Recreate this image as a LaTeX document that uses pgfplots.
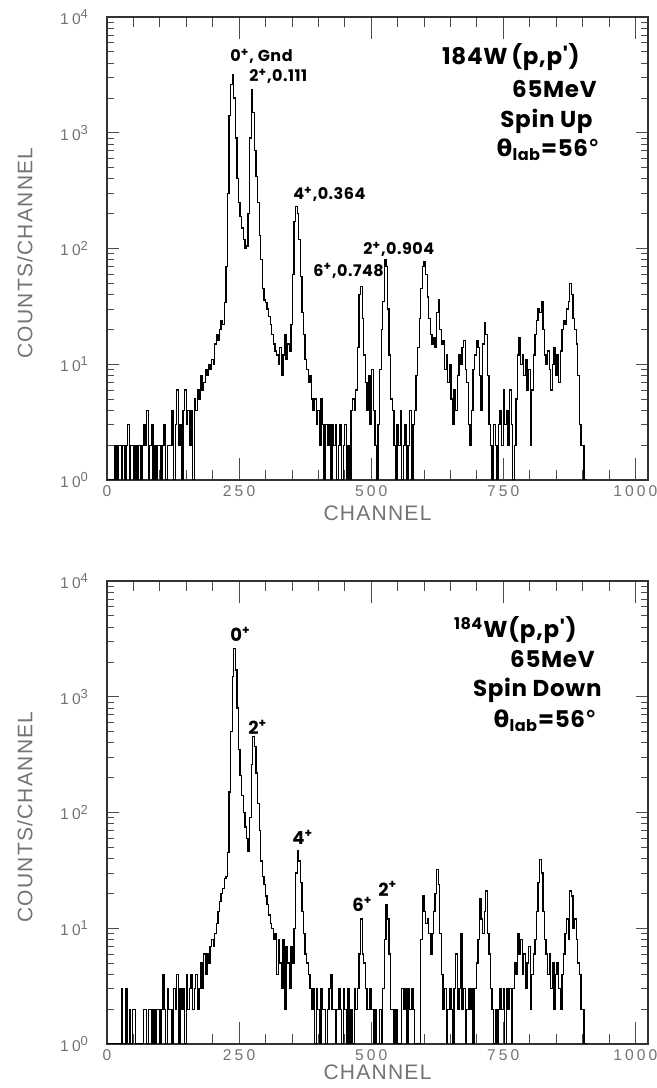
\documentclass[border=0pt]{standalone}
\usepackage{fontspec}
\usepackage{pgfplots}
\pgfplotsset{compat=1.18}
\setmainfont{Liberation Sans}
\newfontfamily\axfont[LetterSpace=6]{Liberation Sans}
\newfontfamily\tkfont[LetterSpace=20]{Liberation Sans}
\newfontfamily\anfont[LetterSpace=3]{Poppins}
\newfontfamily\grfont{DejaVu Sans}
\definecolor{labgray}{gray}{0.45}
\newcommand{\ex}[1]{10\raisebox{0.7ex}{\fontsize{6.5}{6.5}\selectfont #1}}

\begin{document}
\begin{tikzpicture}
\path[use as bounding box] (0,0) rectangle (328.5pt,544pt);

% spin up
\begin{axis}[at={(53.5pt,304pt)}, anchor=south west,
    scale only axis, width=270.5pt, height=231.5pt,
    ymode=log, xmin=0, xmax=1024, ymin=1, ymax=10000,
    xtick={0,250,500,750,1000}, xticklabels={0,250,500,750,1000},
    minor xtick={50,100,150,200,300,350,400,450,550,600,650,700,800,850,900,950},
    ytick={1,10,100,1000,10000}, yticklabels={\ex{0},\ex{1},\ex{2},\ex{3},\ex{4}},
    minor ytick={2,3,4,5,6,7,8,9,20,30,40,50,60,70,80,90,200,300,400,500,600,700,800,900,2000,3000,4000,5000,6000,7000,8000,9000},
    xtick pos=both, ytick pos=both,
    tick align=inside, major tick length=6pt, minor tick length=3.5pt,
    xtick style={/pgfplots/major tick length=11pt, /pgfplots/minor tick length=5pt},
    tick style={black!70, line width=0.4pt},
    axis line style={black!80, line width=0.6pt},
    ticklabel style={font=\tkfont\fontsize{7.8}{9}\selectfont, text=labgray},
    yticklabel style={xshift=-6pt},
    xticklabel style={inner sep=1pt, yshift=-1.5pt},
    xlabel={CHANNEL}, ylabel={COUNTS/CHANNEL},
    xlabel style={font=\axfont\fontsize{10.5}{12}\selectfont, text=labgray, inner sep=0pt,
      at={(axis description cs:0.5,0)}, anchor=center, yshift=-16.75pt},
    ylabel style={font=\axfont\fontsize{10.5}{12}\selectfont, text=labgray,
      at={(axis description cs:-0.1516,0.49)}, anchor=center}]
\addplot[const plot, black, line width=0.65pt, mark=none] coordinates {
(0,1)(3,1)(6,1)(9,1)(12,1)(15,2)(18,1)(21,2)(24,2)(27,1)
(30,2)(33,1)(36,2)(39,3)(42,1)(45,2)(48,2)(51,1)(54,2)(57,1)
(60,2)(63,1)(66,2)(69,3)(72,2)(75,4)(78,1)(81,2)(84,3)(87,1)
(90,2)(93,1)(96,2)(99,2)(102,1)(105,2)(108,3)(111,1)(114,2)(117,2)
(120,2)(123,4)(126,1)(129,3)(132,6)(135,2)(138,3)(141,1)(144,4)(147,6)
(150,3)(153,4)(156,2)(159,4)(162,1)(165,5)(168,4)(171,6)(174,5)(177,8)
(180,6)(183,7)(186,9)(189,8)(192,10)(195,9)(198,11)(201,10)(204,15)(207,18)
(210,16)(213,20)(216,24)(219,22)(222,34)(225,70)(228,300)(231,1400)(234,2600)(237,3160)
(240,2000)(243,900)(246,400)(249,250)(252,190)(255,150)(258,120)(261,100)(264,105)(267,200)
(270,900)(273,2340)(276,1500)(279,700)(282,420)(285,250)(288,130)(291,80)(294,45)(297,36)
(300,34)(303,30)(306,26)(309,22)(312,18)(315,15)(318,13)(321,12)(324,10)(327,14)
(330,8)(333,12)(336,18)(339,11)(342,15)(345,13)(348,22)(351,60)(354,170)(357,230)
(360,200)(363,120)(366,57)(369,28)(372,18)(375,11)(378,9)(381,7)(384,8)(387,5)
(390,4)(393,5)(396,3)(399,4)(402,2)(405,5)(408,3)(411,1)(414,3)(417,2)
(420,3)(423,1)(426,3)(429,2)(432,3)(435,1)(438,2)(441,3)(444,1)(447,2)
(450,3)(453,1)(456,2)(459,1)(462,4)(465,5)(468,4)(471,6)(474,14)(477,40)
(480,47)(483,25)(486,12)(489,7)(492,4)(495,8)(498,3)(501,9)(504,4)(507,2)
(510,1)(513,3)(516,9)(519,20)(522,35)(525,80)(528,70)(531,30)(534,12)(537,5)
(540,4)(543,2)(546,1)(549,3)(552,2)(555,4)(558,1)(561,2)(564,3)(567,1)
(570,2)(573,4)(576,1)(579,3)(582,4)(585,8)(588,14)(591,25)(594,45)(597,70)
(600,77)(603,60)(606,38)(609,25)(612,18)(615,15)(618,17)(621,14)(624,28)(627,36)
(630,20)(633,15)(636,16)(639,9)(642,12)(645,7)(648,10)(651,5)(654,3)(657,6)
(660,4)(663,8)(666,12)(669,10)(672,14)(675,16)(678,9)(681,7)(684,3)(687,2)
(690,4)(693,9)(696,12)(699,16)(702,14)(705,8)(708,4)(711,15)(714,23)(717,18)
(720,8)(723,3)(726,2)(729,1)(732,3)(735,2)(738,1)(741,3)(744,4)(747,2)
(750,6)(753,3)(756,4)(759,2)(762,6)(765,3)(768,1)(771,2)(774,5)(777,12)
(780,17)(783,10)(786,12)(789,8)(792,11)(795,6)(798,9)(801,2)(804,6)(807,12)
(810,18)(813,24)(816,30)(819,28)(822,35)(825,20)(828,12)(831,10)(834,13)(837,9)
(840,6)(843,10)(846,14)(849,8)(852,12)(855,7)(858,13)(861,20)(864,24)(867,22)
(870,30)(873,35)(876,50)(879,40)(882,25)(885,20)(888,15)(891,8)(894,3)(897,2)
(900,2)(903,1)(906,1)(909,1)
};
\end{axis}

% spin down
\begin{axis}[at={(53.5pt,22pt)}, anchor=south west,
    scale only axis, width=270.5pt, height=231.5pt,
    ymode=log, xmin=0, xmax=1024, ymin=1, ymax=10000,
    xtick={0,250,500,750,1000}, xticklabels={0,250,500,750,1000},
    minor xtick={50,100,150,200,300,350,400,450,550,600,650,700,800,850,900,950},
    ytick={1,10,100,1000,10000}, yticklabels={\ex{0},\ex{1},\ex{2},\ex{3},\ex{4}},
    minor ytick={2,3,4,5,6,7,8,9,20,30,40,50,60,70,80,90,200,300,400,500,600,700,800,900,2000,3000,4000,5000,6000,7000,8000,9000},
    xtick pos=both, ytick pos=both,
    tick align=inside, major tick length=6pt, minor tick length=3.5pt,
    xtick style={/pgfplots/major tick length=11pt, /pgfplots/minor tick length=5pt},
    tick style={black!70, line width=0.4pt},
    axis line style={black!80, line width=0.6pt},
    ticklabel style={font=\tkfont\fontsize{7.8}{9}\selectfont, text=labgray},
    yticklabel style={xshift=-6pt},
    xticklabel style={inner sep=1pt, yshift=-1.5pt},
    xlabel={CHANNEL}, ylabel={COUNTS/CHANNEL},
    xlabel style={font=\axfont\fontsize{10.5}{12}\selectfont, text=labgray, inner sep=0pt,
      at={(axis description cs:0.5,0)}, anchor=center, yshift=-14pt},
    ylabel style={font=\axfont\fontsize{10.5}{12}\selectfont, text=labgray,
      at={(axis description cs:-0.1516,0.49)}, anchor=center}]
\addplot[const plot, black, line width=0.65pt, mark=none] coordinates {
(0,1)(3,1)(6,1)(9,1)(12,1)(15,1)(18,1)(21,1)(24,1)(27,3)
(30,1)(33,1)(36,3)(39,1)(42,2)(45,1)(48,2)(51,2)(54,1)(57,1)
(60,1)(63,1)(66,1)(69,2)(72,2)(75,1)(78,2)(81,2)(84,1)(87,2)
(90,1)(93,2)(96,2)(99,1)(102,2)(105,4)(108,2)(111,1)(114,3)(117,2)
(120,2)(123,1)(126,3)(129,2)(132,4)(135,1)(138,3)(141,2)(144,3)(147,1)
(150,4)(153,2)(156,3)(159,4)(162,2)(165,3)(168,4)(171,2)(174,3)(177,5)
(180,3)(183,6)(186,4)(189,6)(192,5)(195,7)(198,8)(201,7)(204,9)(207,11)
(210,14)(213,17)(216,20)(219,22)(222,27)(225,28)(228,45)(231,150)(234,500)(237,1500)
(240,2630)(243,1700)(246,800)(249,350)(252,210)(255,140)(258,100)(261,75)(264,60)(267,46)
(270,90)(273,260)(276,452)(279,370)(282,220)(285,120)(288,70)(291,38)(294,28)(297,24)
(300,19)(303,16)(306,13)(309,11)(312,10)(315,8)(318,9)(321,4)(324,8)(327,5)
(330,3)(333,8)(336,2)(339,7)(342,5)(345,3)(348,7)(351,5)(354,10)(357,30)
(360,47)(363,38)(366,25)(369,14)(372,9)(375,6)(378,5)(381,4)(384,3)(387,2)
(390,3)(393,1)(396,3)(399,2)(402,1)(405,3)(408,2)(411,2)(414,1)(417,2)
(420,3)(423,4)(426,2)(429,2)(432,1)(435,2)(438,3)(441,2)(444,1)(447,3)
(450,2)(453,1)(456,3)(459,1)(462,2)(465,1)(468,3)(471,2)(474,3)(477,6)
(480,12)(483,6)(486,5)(489,3)(492,2)(495,2)(498,3)(501,2)(504,1)(507,2)
(510,1)(513,1)(516,2)(519,1)(522,3)(525,8)(528,16)(531,12)(534,6)(537,2)
(540,2)(543,1)(546,2)(549,1)(552,1)(555,1)(558,3)(561,2)(564,3)(567,1)
(570,3)(573,2)(576,3)(579,2)(582,1)(585,1)(588,1)(591,1)(594,8)(597,19)
(600,14)(603,11)(606,12)(609,9)(612,6)(615,9)(618,14)(621,20)(624,32)(627,24)
(630,9)(633,4)(636,2)(639,3)(642,1)(645,2)(648,3)(651,2)(654,1)(657,3)
(660,6)(663,2)(666,3)(669,9)(672,2)(675,3)(678,1)(681,2)(684,3)(687,2)
(690,3)(693,1)(696,3)(699,5)(702,8)(705,18)(708,12)(711,9)(714,14)(717,21)
(720,9)(723,6)(726,3)(729,2)(732,1)(735,2)(738,1)(741,2)(744,3)(747,2)
(750,3)(753,1)(756,3)(759,2)(762,3)(765,1)(768,3)(771,5)(774,4)(777,9)
(780,6)(783,8)(786,4)(789,6)(792,3)(795,5)(798,7)(801,2)(804,4)(807,6)
(810,8)(813,14)(816,25)(819,39)(822,30)(825,14)(828,8)(831,6)(834,4)(837,6)
(840,3)(843,5)(846,2)(849,4)(852,5)(855,3)(858,2)(861,4)(864,6)(867,9)
(870,12)(873,8)(876,21)(879,19)(882,10)(885,12)(888,8)(891,5)(894,4)(897,2)
(900,2)(903,1)(906,1)(909,1)
};
\end{axis}

% reaction labels
\begin{scope}[every node/.style={inner sep=0pt, anchor=base east,
    font=\anfont\bfseries\fontsize{11.5}{13}\selectfont}]
\node at (290pt,511.5pt) {184W\,(p,p')};
\node at (298.5pt,495pt) {65MeV};
\node at (296.5pt,480pt) {Spin Up};
\node at (300pt,465.5pt) {{\grfont θ}\textsubscript{lab}=56{\grfont °}};
\node at (288.5pt,225pt) {\textsuperscript{184}W(p,p')};
\node at (297.5pt,210pt) {65MeV};
\node at (301pt,195.5pt) {Spin Down};
\node at (298.5pt,180pt) {{\grfont θ}\textsubscript{lab}=56{\grfont °}};
\end{scope}

% peak labels
\begin{scope}[every node/.style={inner sep=0pt, anchor=base west,
    font=\anfont\bfseries\fontsize{8}{9.6}\selectfont}]
\node at (115pt,513pt) {0\textsuperscript{+}, Gnd};
\node at (124.5pt,503pt) {2\textsuperscript{+},0.111};
\node at (146.5pt,444pt) {4\textsuperscript{+},0.364};
\node at (156.5pt,405.7pt) {6\textsuperscript{+},0.748};
\node at (181.5pt,416.5pt) {2\textsuperscript{+},0.904};
\end{scope}
\begin{scope}[every node/.style={inner sep=0pt, anchor=base west,
    font=\anfont\bfseries\fontsize{9}{10.8}\selectfont}]
\node at (115pt,223pt) {0\textsuperscript{+}};
\node at (124pt,176.5pt) {2\textsuperscript{+}};
\node at (146pt,121.5pt) {4\textsuperscript{+}};
\node at (176pt,88pt) {6\textsuperscript{+}};
\node at (189pt,95.7pt) {2\textsuperscript{+}};
\end{scope}
\end{tikzpicture}
\end{document}
